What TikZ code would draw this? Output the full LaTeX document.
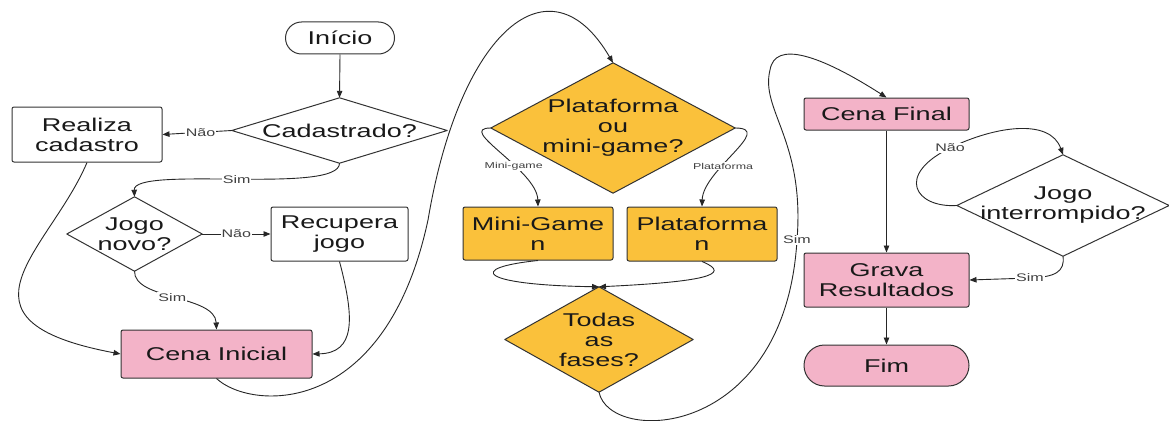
\documentclass[tikz,border=0pt]{standalone}
\usepackage{fontspec}
\setmainfont{Liberation Sans}[FakeStretch=1.46]
\usetikzlibrary{arrows.meta}
\definecolor{pk}{HTML}{F3B3C8}
\definecolor{og}{HTML}{FAC13B}
\definecolor{ln}{HTML}{333333}
\pgfdeclarelayer{bg}
\pgfsetlayers{bg,main}
\begin{document}
\begin{tikzpicture}[x=1pt,y=-1pt,
  base/.style={font=\fontsize{18.5}{20}\selectfont, text=black!90, align=center, inner sep=0pt},
  box/.style={base, draw=ln, line width=1pt, rounded corners=2pt},
  pill/.style={base, draw=ln, line width=1pt},
  dm/.style={base},
  dmline/.style={draw=ln, line width=1pt, line join=round},
  flow/.style={draw=black!85, line width=0.9pt, -{Triangle[length=7pt,width=5.5pt]}},
  lbl/.style={font=\fontsize{11}{12}\selectfont, text=black!75, fill=white, inner sep=1pt},
  slbl/.style={lbl, font=\fontsize{8.5}{9}\selectfont},
]
\useasboundingbox (0,0) rectangle (1169,420);

% nodes
\node[pill, rounded corners=16pt, minimum width=109pt, minimum height=32pt] (ini) at (340,38) {Início};
\node[dm, minimum width=215pt, minimum height=65pt] (cad) at (339.5,130.5) {Cadastrado?};
\node[box, minimum width=150pt, minimum height=55pt] (rc) at (87,134.5) {Realiza\\cadastro};
\node[dm, minimum width=135pt, minimum height=74pt] (jn) at (134.5,234) {Jogo\\novo?};
\node[box, minimum width=137pt, minimum height=54pt] (rj) at (339.5,234) {Recupera\\jogo};
\node[box, fill=pk, minimum width=191pt, minimum height=48pt] (ci) at (216.5,354) {Cena Inicial};

\node[dm, minimum width=244pt, minimum height=130pt] (pm) at (613,128) {Plataforma\\ou\\mini-game?};
\node[box, fill=og, minimum width=150pt, minimum height=53pt] (mg) at (538,233.5) {Mini-Game\\n};
\node[box, fill=og, minimum width=150pt, minimum height=54pt] (pf) at (702,234) {Plataforma\\n};
\node[dm, minimum width=188pt, minimum height=105pt] (tf) at (599,339.5) {Todas\\as\\fases?};

\node[box, fill=pk, minimum width=165pt, minimum height=32pt] (cf) at (886.5,114) {Cena Final};
\node[box, fill=pk, minimum width=165pt, minimum height=54pt] (gr) at (886.5,280) {Grava\\Resultados};
\node[pill, fill=pk, rounded corners=20.5pt, minimum width=165pt, minimum height=41pt] (fim) at (886.5,365.5) {Fim};
\node[dm, minimum width=212pt, minimum height=101pt] (ji) at (1063,205.5) {Jogo\\interrompido?};

\begin{pgfonlayer}{bg}
\fill[white] (0,0) rectangle (1169,420);
\foreach \n/\c in {cad/white, jn/white, pm/og, tf/og, ji/white}
  \draw[dmline, fill=\c] (\n.north) -- (\n.east) -- (\n.south) -- (\n.west) -- cycle;
\end{pgfonlayer}

% connectors
\draw[flow] (ini.south) -- (cad.north);
\draw[flow] (cad.west) -- node[lbl, pos=0.45] {Não} (rc.east);
\draw[flow] (cad.south) .. controls (340,195) and (133,165) .. node[lbl] {Sim} (jn.north);
\draw[flow] (jn.east) -- node[lbl] {Não} (rj.west);
\draw[flow] (jn.south) .. controls (134,300) and (215,295) .. node[lbl, pos=0.48] {Sim} (ci.north);
\draw[flow] (rc.south) .. controls (50,250) and (-60,320) .. (ci.west);
\draw[flow] (rj.south) .. controls (355,320) and (355,353) .. (ci.east);
\draw[flow] (ci.south) .. controls (250,410) and (385,420) .. (428,220)
  .. controls (460,30) and (550,-45) .. (pm.north);

\draw[flow] (pm.west) .. controls (455,128) and (537,170) .. node[slbl, pos=0.63] {Mini-game} (mg.north);
\draw[flow] (pm.east) .. controls (775,128) and (703,170) .. node[slbl, pos=0.63] {Plataforma} (pf.north);
\draw[flow] (mg.south) .. controls (465,268) and (480,285) .. (tf.north);
\draw[flow] (pf.south) .. controls (735,275) and (700,282) .. (tf.north);
\draw[flow] (tf.south) .. controls (610,445) and (785,440) .. (797,240) node[lbl] {Sim}
  .. controls (805,140) and (760,110) .. (770,70)
  .. controls (775,40) and (820,55) .. (cf.north);

\draw[flow] (cf.south) -- (gr.north);
\draw[flow] (gr.south) -- (fim.north);
\draw[flow] (ji.west) .. controls (915,208) and (895,175) .. (950,148) node[lbl] {Não}
  .. controls (995,126) and (1050,118) .. (ji.north);
\draw[flow] (ji.south) .. controls (1065,272) and (1055,277) .. (1030,278) node[lbl] {Sim} -- (gr.east);
\end{tikzpicture}
\end{document}
